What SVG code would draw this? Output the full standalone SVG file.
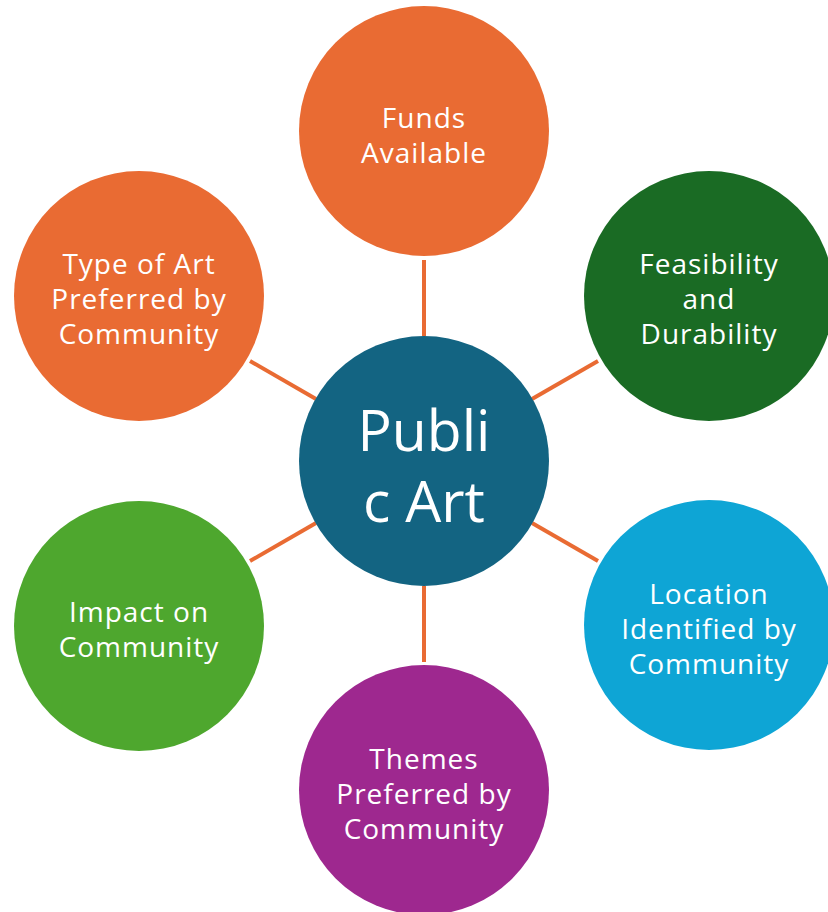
<svg xmlns="http://www.w3.org/2000/svg" width="828" height="912" viewBox="0 0 828 912">
  <style>
    .node text { font-family: "Open Sans", "Noto Sans", "Liberation Sans", sans-serif; fill: #ffffff; text-anchor: middle; }
    .lbl { font-size: 28px; letter-spacing: 1px; }
    .hub { font-size: 57px; }
    .link { stroke: #E96B33; stroke-width: 4; fill: none; }
  </style>
  <rect width="828" height="912" fill="#ffffff"/>

  <!-- spokes from the hub to each surrounding circle -->
  <g id="connectors">
    <line class="link" x1="424" y1="260" x2="424" y2="336"/>
    <line class="link" x1="424" y1="586" x2="424" y2="662"/>
    <line class="link" x1="250" y1="361" x2="316" y2="399"/>
    <line class="link" x1="598" y1="361" x2="532" y2="399"/>
    <line class="link" x1="250" y1="561" x2="316" y2="523"/>
    <line class="link" x1="598" y1="561" x2="532" y2="523"/>
  </g>

  <g id="hub" class="node">
    <circle cx="424" cy="461" r="125" fill="#136482"/>
    <text class="hub" x="424" y="451">Publi</text>
    <text class="hub" x="424" y="522">c Art</text>
  </g>

  <g id="funds" class="node">
    <circle cx="424" cy="131" r="125" fill="#E96B33"/>
    <text class="lbl" x="424" y="128">Funds</text>
    <text class="lbl" x="424" y="163">Available</text>
  </g>

  <g id="feasibility" class="node">
    <circle cx="709" cy="296" r="125" fill="#1A6B24"/>
    <text class="lbl" x="709" y="274">Feasibility</text>
    <text class="lbl" x="709" y="309">and</text>
    <text class="lbl" x="709" y="344">Durability</text>
  </g>

  <g id="location" class="node">
    <circle cx="709" cy="625" r="125" fill="#0EA5D5"/>
    <text class="lbl" x="709" y="604">Location</text>
    <text class="lbl" x="709" y="639">Identified by</text>
    <text class="lbl" x="709" y="674">Community</text>
  </g>

  <g id="themes" class="node">
    <circle cx="424" cy="790" r="125" fill="#9E288F"/>
    <text class="lbl" x="424" y="769">Themes</text>
    <text class="lbl" x="424" y="804">Preferred by</text>
    <text class="lbl" x="424" y="839">Community</text>
  </g>

  <g id="impact" class="node">
    <circle cx="139" cy="626" r="125" fill="#4EA72E"/>
    <text class="lbl" x="139" y="622">Impact on</text>
    <text class="lbl" x="139" y="657">Community</text>
  </g>

  <g id="art-type" class="node">
    <circle cx="139" cy="296" r="125" fill="#E96B33"/>
    <text class="lbl" x="139" y="274">Type of Art</text>
    <text class="lbl" x="139" y="309">Preferred by</text>
    <text class="lbl" x="139" y="344">Community</text>
  </g>
</svg>
